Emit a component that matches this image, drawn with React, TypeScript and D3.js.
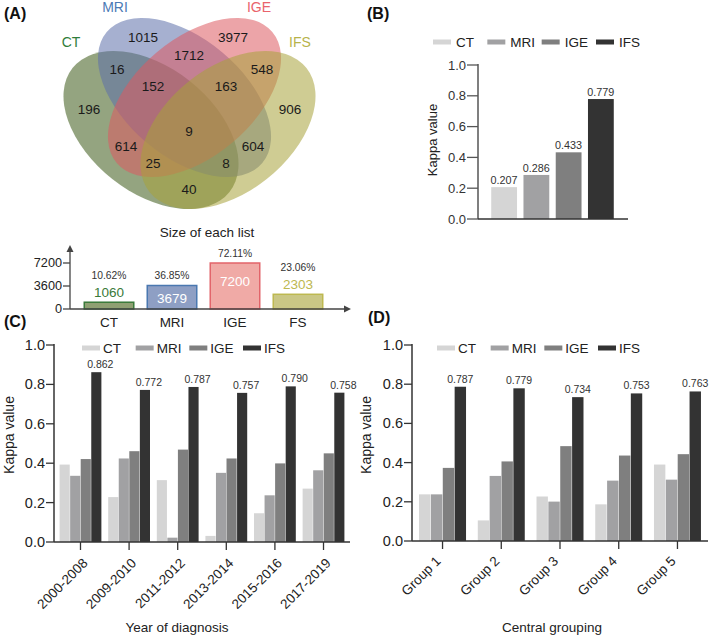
import * as d3 from "d3";

const FONT = "'Liberation Sans', Arial, Helvetica, sans-serif";

// methods compared in panels B, C and D
const methods = ["CT", "MRI", "IGE", "IFS"];
const methodGreys = ["#d5d5d5", "#a1a1a3", "#7f7f7f", "#333333"];

// (A) Venn diagram
const vennSets = ["CT", "MRI", "IGE", "IFS"];
const vennRegionSets = [
  ["CT"], ["MRI"], ["IGE"], ["IFS"],
  ["CT", "MRI"], ["MRI", "IGE"], ["IGE", "IFS"], ["CT", "IGE"], ["MRI", "IFS"], ["CT", "IFS"],
  ["CT", "MRI", "IGE"], ["MRI", "IGE", "IFS"], ["CT", "IGE", "IFS"], ["CT", "MRI", "IFS"],
  ["CT", "MRI", "IGE", "IFS"],
];
const vennRegionCounts = [196, 1015, 3977, 906, 16, 1712, 548, 614, 604, 40, 152, 163, 25, 8, 9];

// (A) size of each list
const listNames = ["CT", "MRI", "IGE", "FS"];
const listSizes = [1060, 3679, 7200, 2303];
const listShares = ["10.62%", "36.85%", "72.11%", "23.06%"];
const listTicks = [0, 3600, 7200];

// (B) overall kappa
const overallKappa = [0.207, 0.286, 0.433, 0.779];

// (C) by year of diagnosis
const yearGroups = ["2000-2008", "2009-2010", "2011-2012", "2013-2014", "2015-2016", "2017-2019"];
const yearCT = [0.393, 0.228, 0.314, 0.031, 0.146, 0.271];
const yearMRI = [0.336, 0.424, 0.022, 0.351, 0.237, 0.364];
const yearIGE = [0.421, 0.461, 0.469, 0.424, 0.399, 0.450];
const yearIFS = [0.862, 0.772, 0.787, 0.757, 0.790, 0.758];

// (D) by central grouping
const centralGroups = ["Group 1", "Group 2", "Group 3", "Group 4", "Group 5"];
const centralCT = [0.238, 0.105, 0.227, 0.187, 0.390];
const centralMRI = [0.238, 0.332, 0.201, 0.308, 0.313];
const centralIGE = [0.373, 0.406, 0.484, 0.436, 0.443];
const centralIFS = [0.787, 0.779, 0.734, 0.753, 0.763];

const vennLabelColors = ["#2f7d3a", "#4b7ab5", "#e9636c", "#b7b34a"];
const vennFills = ["#3d5a18", "#5d6fa9", "#dc5960", "#a8a23a"];
const listFills = ["#8fa072", "#8e9fc4", "#f0aaa6", "#cac785"];
const listStrokes = ["#3a7a3a", "#4a78b0", "#e2646a", "#bdb850"];

const fmt1 = d3.format(".1f");
const fmt3 = d3.format(".3f");

const ellipses = [
  { cx: 151, cy: 130, a: 100, b: 62.5, deg: 38.3 },
  { cx: 184.5, cy: 97.5, a: 101.7, b: 58.9, deg: 40.1 },
  { cx: 194.5, cy: 97.5, a: 101.7, b: 58.9, deg: -40.1 },
  { cx: 228, cy: 130, a: 100, b: 62.5, deg: -38.3 },
];

function inside(e, x, y) {
  const t = (e.deg * Math.PI) / 180;
  const dx = x - e.cx, dy = y - e.cy;
  const u = dx * Math.cos(t) + dy * Math.sin(t);
  const v = -dx * Math.sin(t) + dy * Math.cos(t);
  return (u / e.a) ** 2 + (v / e.b) ** 2 <= 1;
}

// place each count at the point of its region farthest from any edge
function labelSpots() {
  const X0 = 50, Y0 = 5, W = 290, H = 220;
  const code = new Int8Array(W * H);
  for (let j = 0; j < H; j++)
    for (let i = 0; i < W; i++) {
      let c = 0;
      ellipses.forEach((e, k) => { if (inside(e, X0 + i, Y0 + j)) c |= 1 << k; });
      code[j * W + i] = c;
    }
  const dist = new Float32Array(W * H);
  for (let j = 0; j < H; j++)
    for (let i = 0; i < W; i++) {
      const p = j * W + i;
      const edge = i === 0 || j === 0 || i === W - 1 || j === H - 1 ||
        code[p - 1] !== code[p] || code[p + 1] !== code[p] ||
        code[p - W] !== code[p] || code[p + W] !== code[p];
      dist[p] = edge ? 0 : 1e9;
    }
  const D = Math.SQRT2;
  for (let j = 1; j < H - 1; j++)
    for (let i = 1; i < W - 1; i++) {
      const p = j * W + i;
      dist[p] = Math.min(dist[p], dist[p - 1] + 1, dist[p - W] + 1, dist[p - W - 1] + D, dist[p - W + 1] + D);
    }
  for (let j = H - 2; j > 0; j--)
    for (let i = W - 2; i > 0; i--) {
      const p = j * W + i;
      dist[p] = Math.min(dist[p], dist[p + 1] + 1, dist[p + W] + 1, dist[p + W + 1] + D, dist[p + W - 1] + D);
    }
  const best = new Map();
  for (let p = 0; p < W * H; p++) {
    const c = code[p];
    if (!c) continue;
    const cur = best.get(c);
    if (!cur || dist[p] > cur.d) best.set(c, { d: dist[p], x: X0 + (p % W), y: Y0 + Math.floor(p / W) });
  }
  return best;
}

function Venn() {
  const spots = labelSpots();
  const setLabelPos = [
    { x: 71, y: 47 }, { x: 115, y: 12 }, { x: 259, y: 12 }, { x: 300, y: 47 },
  ];
  return (
    <g>
      {ellipses.map((e, k) => (
        <ellipse key={k} cx={e.cx} cy={e.cy} rx={e.a} ry={e.b}
          transform={`rotate(${e.deg},${e.cx},${e.cy})`}
          fill={vennFills[k]} fillOpacity={0.55} />
      ))}
      {vennSets.map((s, k) => (
        <text key={s} x={setLabelPos[k].x} y={setLabelPos[k].y} textAnchor="middle"
          fontSize={14} fill={vennLabelColors[k]}>{s}</text>
      ))}
      {vennRegionSets.map((members, r) => {
        const c = members.reduce((acc, m) => acc | (1 << vennSets.indexOf(m)), 0);
        const s = spots.get(c);
        if (!s) return null;
        return (
          <text key={r} x={s.x} y={s.y} textAnchor="middle" dominantBaseline="central"
            fontSize={13.5} fill="#1a1a1a">{vennRegionCounts[r]}</text>
        );
      })}
    </g>
  );
}

function ListSizes() {
  const axisX = 70, base = 309;
  const x = d3.scaleBand().domain(listNames).range([75, 332]).paddingInner(0.214).paddingOuter(0.147);
  const y = d3.scaleLinear().domain([0, 7200]).range([base, 263]);
  return (
    <g>
      <text x={207} y={237} textAnchor="middle" fontSize={13.5} fill="#222">Size of each list</text>
      {listNames.map((n, i) => {
        const top = y(listSizes[i]);
        const cx = x(n) + x.bandwidth() / 2;
        const inBar = base - top > 20;
        return (
          <g key={n}>
            <rect x={x(n)} y={top} width={x.bandwidth()} height={base - top}
              fill={listFills[i]} stroke={listStrokes[i]} strokeWidth={1.5} />
            <text x={cx} y={inBar ? top - 6 : top - 23} textAnchor="middle" fontSize={10.3} fill="#333">{listShares[i]}</text>
            <text x={cx} y={inBar ? Math.min(top + 23, base - 6) : top - 5} textAnchor="middle"
              fontSize={13.5} fill={inBar ? "#ffffff" : listStrokes[i]}>{listSizes[i]}</text>
            <text x={cx} y={327} textAnchor="middle" fontSize={13.5} fill="#222">{n}</text>
          </g>
        );
      })}
      <line x1={axisX} y1={base} x2={axisX} y2={250} stroke="#444" strokeWidth={1.3} />
      <path d={`M${axisX},245 L${axisX - 3.5},252 L${axisX + 3.5},252 Z`} fill="#444" />
      <line x1={axisX} y1={base} x2={346} y2={base} stroke="#444" strokeWidth={1.3} />
      <path d={`M351,${base} L344,${base - 3.5} L344,${base + 3.5} Z`} fill="#444" />
      {listTicks.map((t) => (
        <g key={t}>
          <line x1={axisX - 7} x2={axisX} y1={y(t)} y2={y(t)} stroke="#444" strokeWidth={1.3} />
          <text x={62} y={y(t)} dy="0.35em" textAnchor="end" fontSize={12.7} fill="#222">{t}</text>
        </g>
      ))}
    </g>
  );
}

function Legend({ from, to, cy, gap }) {
  const lx = d3.scalePoint().domain(methods).range([from, to]);
  return (
    <g>
      {methods.map((m, i) => (
        <g key={m}>
          <rect x={lx(m)} y={cy - 2.5} width={18} height={5} fill={methodGreys[i]} />
          <text x={lx(m) + gap} y={cy + 5} fontSize={13.5} fill="#222">{m}</text>
        </g>
      ))}
    </g>
  );
}

function OverallKappa() {
  const left = 478, right = 628, bottom = 219, top = 65;
  const x = d3.scaleBand().domain(methods).range([488, 617]).paddingInner(0.2).paddingOuter(0.1);
  const y = d3.scaleLinear().domain([0, 1]).range([bottom, top]);
  return (
    <g>
      <Legend from={433} to={596} cy={42} gap={23} />
      {methods.map((m, i) => (
        <g key={m}>
          <rect x={x(m)} y={y(overallKappa[i])} width={x.bandwidth()} height={bottom - y(overallKappa[i])} fill={methodGreys[i]} />
          <text x={x(m) + x.bandwidth() / 2} y={y(overallKappa[i]) - 3} textAnchor="middle" fontSize={10.8} fill="#333">
            {fmt3(overallKappa[i])}
          </text>
        </g>
      ))}
      <line x1={left} x2={left} y1={top - 1} y2={bottom} stroke="#555" strokeWidth={1.5} />
      <line x1={left} x2={right} y1={bottom} y2={bottom} stroke="#333" strokeWidth={1.5} />
      {y.ticks(5).map((t) => (
        <g key={t}>
          <line x1={left - 11} x2={left} y1={y(t)} y2={y(t)} stroke="#555" strokeWidth={1.3} />
          <text x={left - 12} y={y(t)} dy="0.35em" textAnchor="end" fontSize={13} fill="#333">{fmt1(t)}</text>
        </g>
      ))}
      <text transform={`translate(437,140) rotate(-90)`} textAnchor="middle" fontSize={13} fill="#222">Kappa value</text>
    </g>
  );
}

function GroupedKappa({ groups, series, left, right, top, bottom, pi, po, legendFrom, legendTo, valueDx, tickDx, tickDy, xTitle, xTitleX, yTitleX }) {
  const x0 = d3.scaleBand().domain(groups).range([left, right]).paddingInner(pi).paddingOuter(po);
  const x1 = d3.scaleBand().domain(methods).range([0, x0.bandwidth()]).paddingInner(0.04);
  const y = d3.scaleLinear().domain([0, 1]).range([bottom, top]);
  return (
    <g>
      <Legend from={legendFrom} to={legendTo} cy={348} gap={21} />
      {groups.map((g, gi) => (
        <g key={g} transform={`translate(${x0(g)},0)`}>
          {methods.map((m, mi) => {
            const v = series[mi][gi];
            return (
              <rect key={m} x={x1(m)} y={y(v)} width={x1.bandwidth()} height={bottom - y(v)} fill={methodGreys[mi]} />
            );
          })}
          <text x={x1("IFS") + x1.bandwidth() / 2 + valueDx} y={y(series[3][gi]) - 4} textAnchor="middle" fontSize={10.5} fill="#333">
            {fmt3(series[3][gi])}
          </text>
        </g>
      ))}
      <line x1={left} x2={left} y1={top - 1} y2={bottom} stroke="#333" strokeWidth={1.5} />
      <line x1={left} x2={right} y1={bottom} y2={bottom} stroke="#333" strokeWidth={1.5} />
      {y.ticks(5).map((t) => (
        <g key={t}>
          <line x1={left - 8} x2={left} y1={y(t)} y2={y(t)} stroke="#333" strokeWidth={1.3} />
          <text x={left - 9} y={y(t)} dy="0.35em" textAnchor="end" fontSize={14.5} fill="#222">{fmt1(t)}</text>
        </g>
      ))}
      {groups.map((g) => {
        const cx = x0(g) + x0.bandwidth() / 2;
        return (
          <g key={g}>
            <line x1={cx} x2={cx} y1={bottom} y2={bottom + 8} stroke="#333" strokeWidth={1.3} />
            <text transform={`translate(${cx + tickDx},${bottom + tickDy}) rotate(-45)`} textAnchor="end" fontSize={13.5} fill="#222">{g}</text>
          </g>
        );
      })}
      <text x={xTitleX} y={632} textAnchor="middle" fontSize={13.5} fill="#222">{xTitle}</text>
      <text transform={`translate(${yTitleX},435) rotate(-90)`} textAnchor="middle" fontSize={14} fill="#222">Kappa value</text>
    </g>
  );
}

export default function App() {
  return (
    <svg width={709} height={638} viewBox="0 0 709 638"
      style={{ position: "absolute", left: 0, top: 0, background: "#fff" }} fontFamily={FONT}>
      <Venn />
      <ListSizes />
      <OverallKappa />
      <GroupedKappa groups={yearGroups} series={[yearCT, yearMRI, yearIGE, yearIFS]}
        left={54} right={350} top={345} bottom={542} pi={0.14} po={0.115}
        legendFrom={82} legendTo={243} valueDx={4} tickDx={8} tickDy={22}
        xTitle="Year of diagnosis" xTitleX={177} yTitleX={14} />
      <GroupedKappa groups={centralGroups} series={[centralCT, centralMRI, centralIGE, centralIFS]}
        left={412} right={708} top={345} bottom={541} pi={0.2} po={0.12}
        legendFrom={437} legendTo={598} valueDx={0} tickDx={-1} tickDy={21}
        xTitle="Central grouping" xTitleX={552} yTitleX={371} />
      <text x={4} y={19} fontSize={16} fontWeight="bold" fill="#111">(A)</text>
      <text x={367} y={19} fontSize={16} fontWeight="bold" fill="#111">(B)</text>
      <text x={4} y={327} fontSize={16} fontWeight="bold" fill="#111">(C)</text>
      <text x={368} y={323} fontSize={16} fontWeight="bold" fill="#111">(D)</text>
    </svg>
  );
}
